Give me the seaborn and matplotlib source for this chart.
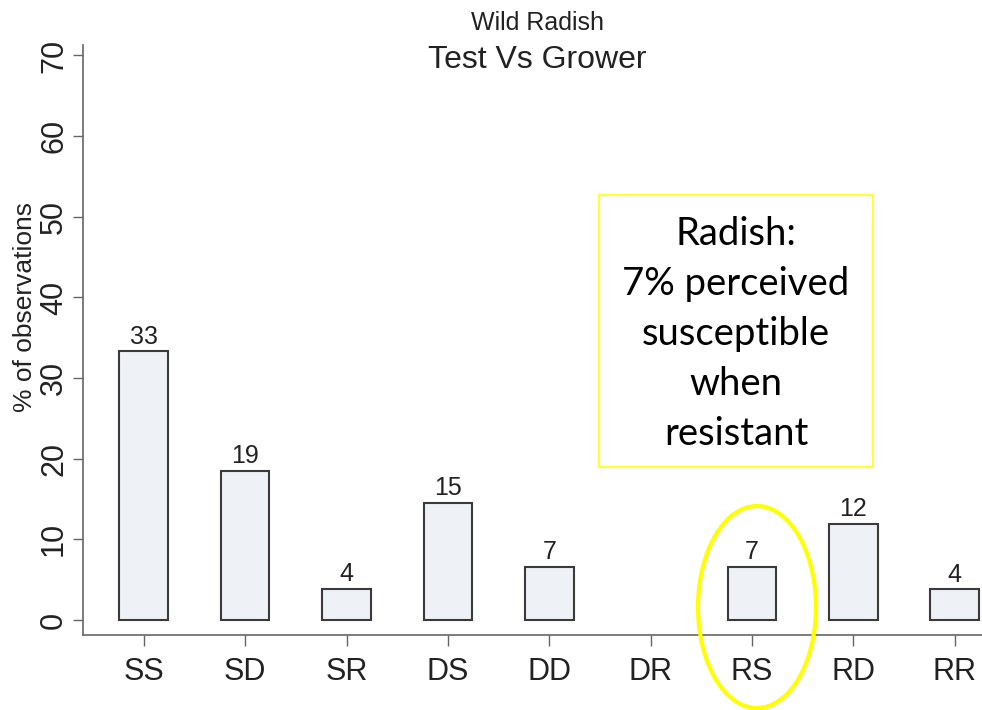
import numpy as np
import pandas as pd
import matplotlib.pyplot as plt
import seaborn as sns
from matplotlib.patches import Ellipse, Rectangle

# Data
categories = ["SS", "SD", "SR", "DS", "DD", "DR", "RS", "RD", "RR"]
pct_obs = [33.3, 18.5, 3.9, 14.5, 6.6, 0.0, 6.6, 11.9, 3.8]
bar_text = ["33", "19", "4", "15", "7", "", "7", "12", "4"]

df = pd.DataFrame({"pair": categories, "pct": pct_obs})

sns.set_style("white")
plt.rcParams["font.family"] = ["Liberation Sans", "DejaVu Sans"]

fig = plt.figure(figsize=(9.82, 7.10), dpi=100)
ax = fig.add_axes([0.0845, 0.1056, 0.9155, 0.831])

sns.barplot(data=df, x="pair", y="pct", color="#eef1f6", saturation=1,
            edgecolor="#3a3a3a", linewidth=1.5, width=0.48, ax=ax)

# empty category gets no outline
for patch, v in zip(ax.patches, pct_obs):
    if v == 0:
        patch.set_visible(False)

# value labels above bars
ax.bar_label(ax.containers[0], labels=bar_text, padding=2, fontsize=18, color="#222222")

ax.set_xlim(-0.6, 8.27)
ax.set_ylim(-1.86, 71.3)
ax.set_yticks(np.arange(0, 71, 10))
ax.set_xlabel("")
ax.set_ylabel("% of observations", fontsize=19, color="#222222",
              family=["Liberation Sans Narrow", "Liberation Sans"])
ax.yaxis.set_label_coords(-0.051, 0.556)

ax.tick_params(axis="y", labelsize=22, labelrotation=90, length=7, width=1,
               color="#666666", labelcolor="#222222", direction="out", left=True, pad=3)
ax.tick_params(axis="x", labelsize=22, length=8, width=1, color="#666666",
               labelcolor="#222222", direction="out", bottom=True, pad=8)
for lab in ax.get_yticklabels():
    lab.set_va("center")

for side in ["top", "right"]:
    ax.spines[side].set_visible(False)
for side in ["left", "bottom"]:
    ax.spines[side].set_color("#666666")
    ax.spines[side].set_linewidth(1.2)

# titles
fig.text(0.547, 1 - 30 / 710, "Wild Radish", ha="center", va="baseline", fontsize=18, color="#222222")
fig.text(0.547, 1 - 68 / 710, "Test Vs Grower", ha="center", va="baseline", fontsize=23, color="#222222")

# callout box
box = Rectangle((599 / 982, 1 - 467 / 710), 274 / 982, 272 / 710, transform=fig.transFigure,
                facecolor="white", edgecolor="#ffff33", linewidth=1.5)
fig.add_artist(box)
fig.text(736 / 982, 1 - 334 / 710,
         "Radish:\n7% perceived\nsusceptible\nwhen\nresistant",
         ha="center", va="center", fontsize=27.5, linespacing=1.49,
         family=["Lato", "DejaVu Sans"], color="black")

# highlight ellipse around RS
ell = Ellipse((757 / 982, 1 - 607 / 710), 118 / 982, 202 / 710, transform=fig.transFigure,
              fill=False, edgecolor="#ffff00", linewidth=3)
fig.add_artist(ell)

fig.savefig("out.png", dpi=100)
